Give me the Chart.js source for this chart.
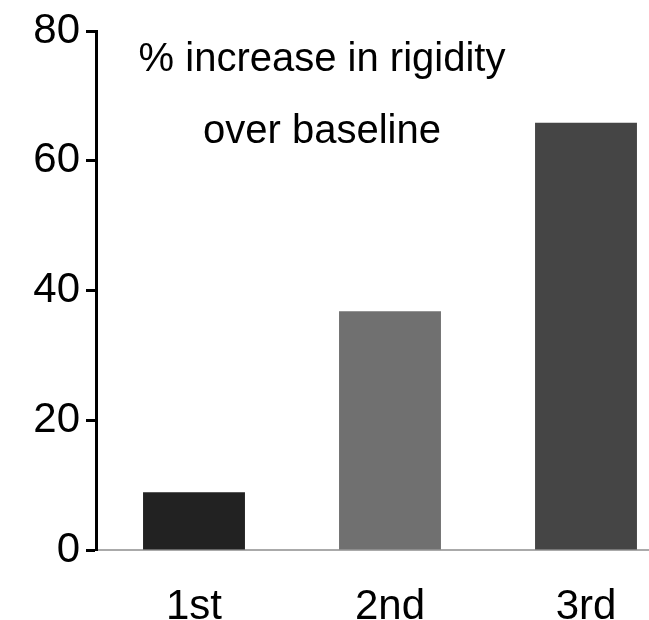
<!DOCTYPE html>
<html>
<head>
<script src="https://cdn.jsdelivr.net/npm/chart.js@4"></script>
<style>
  body { margin: 0; overflow: hidden; background: #fff; }
</style>
</head>
<body>
<canvas id="c" width="700" height="620"></canvas>
<script>
// chart data
const categories = ['1st', '2nd', '3rd'];
const values = [8.9, 36.8, 65.9];
const barColors = ['#222222', '#707070', '#454545'];
const yTicks = [0, 20, 40, 60, 80];

const font = "'Liberation Sans', 'DejaVu Sans', sans-serif";

// caption drawn inside the plot area
const captionPlugin = {
  id: 'caption',
  afterDraw(chart) {
    const ctx = chart.ctx;
    ctx.save();
    ctx.fillStyle = '#000';
    ctx.font = '40px ' + font;
    ctx.textAlign = 'center';
    ctx.textBaseline = 'middle';
    ctx.fillText('% increase in rigidity', 322, 60);
    ctx.fillText('over baseline', 322, 132);
    ctx.restore();
  }
};

new Chart(document.getElementById('c').getContext('2d'), {
  type: 'bar',
  data: {
    labels: categories,
    datasets: [{
      data: values,
      backgroundColor: barColors,
      barPercentage: 0.52,
      categoryPercentage: 1
    }]
  },
  options: {
    responsive: false,
    animation: false,
    layout: { padding: { top: 22, right: 16, bottom: 0, left: 0 } },
    plugins: { legend: { display: false }, tooltip: { enabled: false } },
    scales: {
      x: {
        afterFit(axis) { axis.height = 70; },
        grid: { display: false, drawTicks: false },
        border: { color: '#aaaaaa', width: 2 },
        ticks: { color: '#000', font: { size: 42, family: font }, padding: 32 }
      },
      y: {
        min: 0,
        max: 80,
        afterBuildTicks(axis) { axis.ticks = yTicks.map(v => ({ value: v })); },
        afterFit(axis) { axis.width = 96; },
        grid: { drawOnChartArea: false, tickLength: 10, tickWidth: 3, color: '#000' },
        border: { color: '#000', width: 3 },
        ticks: { color: '#000', font: { size: 42, family: font }, padding: 6 }
      }
    }
  },
  plugins: [captionPlugin]
});
</script>
</body>
</html>
